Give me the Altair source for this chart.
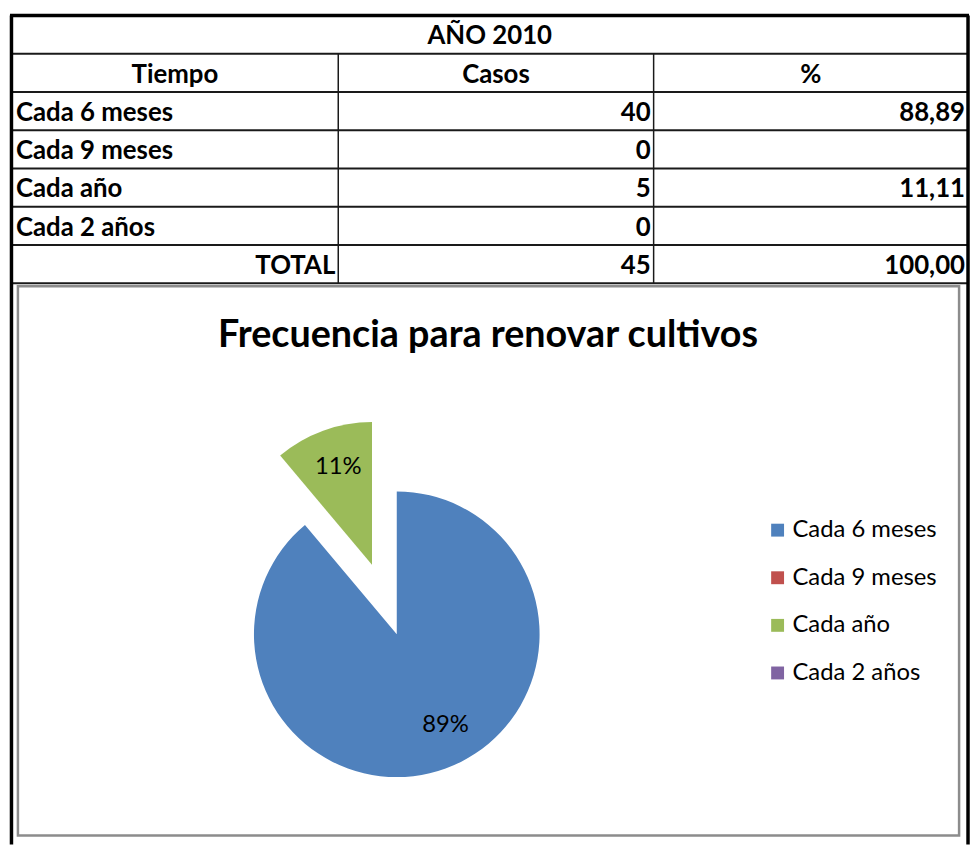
import json
import altair as alt
import pandas as pd

# ---------------- data ----------------
TABLE_TITLE = "AÑO 2010"
HEADERS = ["Tiempo", "Casos", "%"]
TIEMPO = ["Cada 6 meses", "Cada 9 meses", "Cada año", "Cada 2 años"]
CASOS = [40, 0, 5, 0]
PORCENTAJE = ["88,89", "", "11,11", ""]
TOTAL_LABEL = "TOTAL"
TOTAL_CASOS = "45"
TOTAL_PCT = "100,00"
CHART_TITLE = "Frecuencia para renovar cultivos"
COLORS = ["#4F81BD", "#C0504D", "#9BBB59", "#8064A2"]
EXPLODED = ["Cada año"]

# ---------------- layout ----------------
W, H = 970, 840
FONT = "Lato"
TBL_TOP, TBL_BOTTOM = 4, 274
X_LEFT, X_RIGHT = 3.5, 968
COL1, COL2 = 333, 651
PIE_C = (392, 628)
PIE_EXP_C = (367, 558)
PIE_R = 144

ysc = alt.Scale(domain=[0, 7], range=[TBL_TOP, TBL_BOTTOM], nice=False, zero=False)

rows = pd.DataFrame({
    "label": TIEMPO + [TOTAL_LABEL],
    "casos": [str(c) for c in CASOS] + [TOTAL_CASOS],
    "pct": PORCENTAJE + [TOTAL_PCT],
    "row": list(range(2, 2 + len(TIEMPO) + 1)),
})
rows["yc"] = rows["row"] + 0.5
body = rows[rows["label"] != TOTAL_LABEL]
total = rows[rows["label"] == TOTAL_LABEL]
one = pd.DataFrame({"k": [0]})


def tlayer(data, field, x, align, size=26, bold=True, dy=2):
    return alt.Chart(data).mark_text(
        align=align, baseline="middle", font=FONT, fontSize=size,
        fontWeight="bold" if bold else "normal", color="black", dy=dy
    ).encode(
        x=alt.value(x),
        y=alt.Y("yc:Q", scale=ysc, axis=None),
        text=alt.Text(f"{field}:N"),
    )


title_df = pd.DataFrame({"t": [TABLE_TITLE], "yc": [0.5]})
hdr = [pd.DataFrame({"t": [h], "yc": [1.5]}) for h in HEADERS]

text_layers = [
    tlayer(title_df, "t", (X_LEFT + X_RIGHT) / 2, "center"),
    tlayer(hdr[0], "t", (X_LEFT + COL1) / 2, "center"),
    tlayer(hdr[1], "t", (COL1 + COL2) / 2, "center"),
    tlayer(hdr[2], "t", (COL2 + X_RIGHT) / 2, "center"),
    tlayer(body, "label", 8, "left"),
    tlayer(total, "label", COL1 - 3, "right"),
    tlayer(rows, "casos", COL2 - 3, "right"),
    tlayer(rows, "pct", X_RIGHT - 3, "right"),
]

# grid lines
hlines = alt.Chart(pd.DataFrame({"b": list(range(1, 8))})).mark_rule(
    color="#1a1a1a", strokeWidth=2
).encode(y=alt.Y("b:Q", scale=ysc, axis=None), x=alt.value(X_LEFT), x2=alt.value(X_RIGHT))
top_line = alt.Chart(pd.DataFrame({"b": [0]})).mark_rule(
    color="black", strokeWidth=3.5
).encode(y=alt.Y("b:Q", scale=ysc, axis=None), x=alt.value(X_LEFT - 1.5), x2=alt.value(X_RIGHT + 1))
span = pd.DataFrame({"y0": [1], "y1": [7]})
vlines = [
    alt.Chart(span).mark_rule(color="#1a1a1a", strokeWidth=1.5).encode(
        x=alt.value(cx), y=alt.Y("y0:Q", scale=ysc, axis=None), y2="y1:Q")
    for cx in (COL1, COL2)
]
borders = [
    alt.Chart(one).mark_rule(color="black", strokeWidth=3.5).encode(
        x=alt.value(bx), y=alt.value(TBL_TOP), y2=alt.value(H))
    for bx in (X_LEFT, X_RIGHT)
]

frame = alt.Chart(one).mark_rect(fill="white", stroke="#8c8c8c", strokeWidth=2.5).encode(
    x=alt.value(10), x2=alt.value(959), y=alt.value(277), y2=alt.value(831))

chart_title = alt.Chart(one).mark_text(
    text=CHART_TITLE, font=FONT, fontSize=38, fontWeight="bold", color="black",
    align="center", baseline="middle"
).encode(x=alt.value(484), y=alt.value(327))

# ---------------- pie ----------------
pie_df = pd.DataFrame({"Tiempo": TIEMPO, "Casos": CASOS, "idx": list(range(len(TIEMPO)))})
exp_list = json.dumps(EXPLODED, ensure_ascii=False)
is_exp = f"indexof({exp_list}, datum.Tiempo) >= 0"
not_exp = f"indexof({exp_list}, datum.Tiempo) < 0"

pie_base = (
    alt.Chart(pie_df)
    .transform_stack(stack="Casos", groupby=[], as_=["t0", "t1"],
                     sort=[alt.SortField("idx", order="ascending")])
    .transform_joinaggregate(total="sum(Casos)")
    .transform_calculate(tm="(datum.t0 + datum.t1) / 2",
                         lab="format(datum.Casos / datum.total, '.0%')")
)
thsc = alt.Scale(nice=False, zero=True)
colsc = alt.Scale(domain=TIEMPO, range=COLORS)
legend = alt.Legend(
    orient="none", legendX=764, legendY=511, title=None, symbolType="square",
    symbolSize=169, symbolStrokeWidth=0, symbolOpacity=1, labelFont=FONT,
    labelFontSize=24, labelColor="black", labelOffset=3, rowPadding=24,
    padding=0, labelLimit=400,
)


def arcs(expr, c):
    return pie_base.transform_filter(expr).mark_arc(outerRadius=PIE_R).encode(
        theta=alt.Theta("t0:Q", scale=thsc),
        theta2="t1:Q",
        color=alt.Color("Tiempo:N", scale=colsc, legend=legend),
        x=alt.value(c[0]), y=alt.value(c[1]),
    )


def labels(expr, c, r, dx=0, dy=0):
    return pie_base.transform_filter(expr).transform_filter("datum.Casos > 0").mark_text(
        radius=r, font=FONT, fontSize=24, color="black", dx=dx, dy=dy,
        align="center", baseline="middle"
    ).encode(
        theta=alt.Theta("tm:Q", scale=thsc),
        text="lab:N",
        x=alt.value(c[0]), y=alt.value(c[1]),
    )


chart = alt.layer(
    frame, chart_title,
    hlines, *vlines, top_line, *borders,
    *text_layers,
    arcs(not_exp, PIE_C), arcs(is_exp, PIE_EXP_C),
    labels(not_exp, PIE_C, 100, dx=15, dy=-2), labels(is_exp, PIE_EXP_C, 105, dx=2),
).properties(
    width=W, height=H, padding=0, autosize="none", background="white"
).configure_view(stroke=None)

chart.save("out.html", embed_options={"renderer": "svg", "actions": False})
